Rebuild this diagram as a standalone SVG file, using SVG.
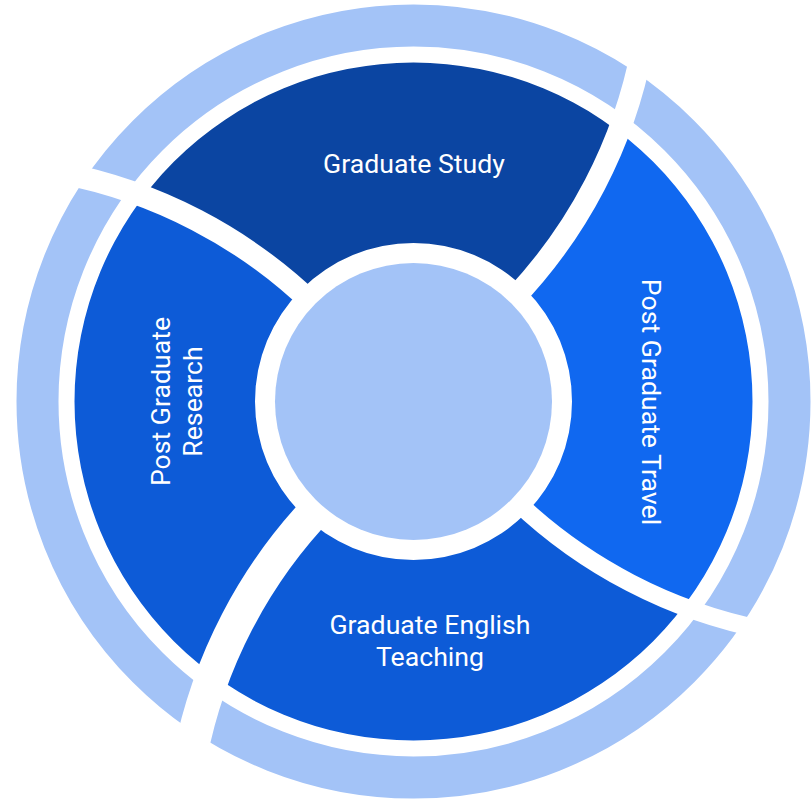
<svg xmlns="http://www.w3.org/2000/svg" width="812" height="802" viewBox="0 0 812 802">
<defs>
<style>
.light{fill:#A3C3F7}
.ring{fill:none;stroke:#A3C3F7;stroke-width:42}
.gap{fill:none;stroke:#FFFFFF;stroke-width:22}
.study{fill:#0B45A2}
.mid{fill:#0D5BD7}
.travel{fill:#1068F0}
.lbl{font-family:Roboto,"Liberation Sans",sans-serif;font-size:26.67px;fill:#FFFFFF;text-anchor:middle}
</style>
<clipPath id="band">
<path clip-rule="evenodd" d="M 74.5 401.5 A 339 339 0 1 0 752.5 401.5 A 339 339 0 1 0 74.5 401.5 Z M 255 401.5 A 158.5 158.5 0 1 0 572 401.5 A 158.5 158.5 0 1 0 255 401.5 Z"/>
</clipPath>
</defs>
<rect width="812" height="802" fill="#FFFFFF"/>
<g id="outer-ring">
<circle cx="413.5" cy="401.5" r="376" class="ring"/>
</g>
<g id="graduate-study">
<path class="study" clip-path="url(#band)" d="M 413.5 401.5 L 313.1 303.9 A 500 500 0 0 0 61.1 172.9 A 420 420 0 0 1 642.1 49.1 A 500 500 0 0 1 511.1 301.1 Z"/>
<text class="lbl" x="414" y="173.3">Graduate Study</text>
</g>
<g id="post-graduate-travel">
<path class="travel" clip-path="url(#band)" d="M 413.5 401.5 L 511.1 301.1 A 500 500 0 0 0 642.1 49.1 A 420 420 0 0 1 765.9 630.1 A 500 500 0 0 1 513.9 499.1 Z"/>
<text class="lbl" transform="translate(642,402) rotate(90)">Post Graduate Travel</text>
</g>
<g id="graduate-english-teaching">
<path class="mid" clip-path="url(#band)" d="M 413.5 401.5 L 513.9 499.1 A 500 500 0 0 0 765.9 630.1 A 420 420 0 0 1 184.9 753.9 A 500 500 0 0 1 315.9 501.9 Z"/>
<text class="lbl"><tspan x="430" y="634.3">Graduate English</tspan><tspan x="430" y="666">Teaching</tspan></text>
</g>
<g id="post-graduate-research">
<path class="mid" clip-path="url(#band)" d="M 413.5 401.5 L 315.9 501.9 A 500 500 0 0 0 184.9 753.9 A 420 420 0 0 1 61.1 172.9 A 500 500 0 0 1 313.1 303.9 Z"/>
<text class="lbl" transform="translate(169.5,401.5) rotate(-90)"><tspan x="0" y="0">Post Graduate</tspan><tspan x="0" y="32">Research</tspan></text>
</g>
<g id="dividers">
<path class="gap" style="stroke-width:18" d="M 513.9 499.1 A 500 500 0 0 0 765.9 630.1"/>
<path class="gap" style="stroke-width:34" transform="translate(5.1,3.1)" d="M 315.9 501.9 A 500 500 0 0 0 184.9 753.9"/>
<path class="gap" d="M 313.1 303.9 A 500 500 0 0 0 61.1 172.9"/>
<path class="gap" d="M 511.1 301.1 A 500 500 0 0 0 642.1 49.1"/>
</g>
<g id="center">
<circle cx="413.5" cy="401.5" r="138.5" class="light"/>
</g>
</svg>
